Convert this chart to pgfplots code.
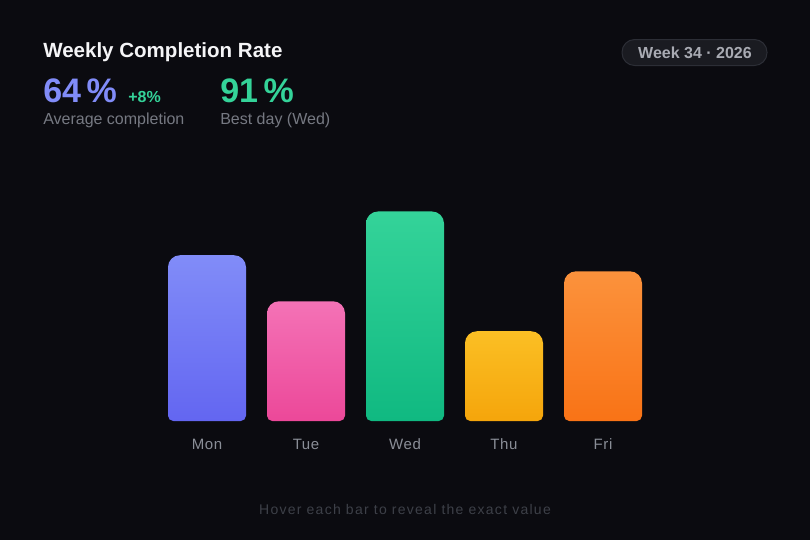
\documentclass[border=0pt]{standalone}
\usepackage{pgfplots}
\pgfplotsset{compat=1.18}
\usepackage{fontspec}
\setmainfont{Liberation Sans}
\newfontfamily\trackfoot[LetterSpace=9]{Liberation Sans}
\newfontfamily\tracksm[LetterSpace=4]{Liberation Sans}

\definecolor{bg}{HTML}{0B0B10}
\definecolor{titleC}{HTML}{F5F5F7}
\definecolor{subC}{HTML}{767982}
\definecolor{dayC}{HTML}{8A8E97}
\definecolor{footC}{HTML}{3D4048}
\definecolor{badgeFill}{HTML}{1A1B21}
\definecolor{badgeLine}{HTML}{2C2E36}
\definecolor{badgeText}{HTML}{A9ABB3}
\definecolor{indigoC}{HTML}{818CF8}
\definecolor{greenC}{HTML}{34D399}
\definecolor{monTop}{HTML}{818CF8}\definecolor{monBot}{HTML}{6366F1}
\definecolor{tueTop}{HTML}{F472B6}\definecolor{tueBot}{HTML}{EC4899}
\definecolor{wedTop}{HTML}{34D399}\definecolor{wedBot}{HTML}{10B981}
\definecolor{thuTop}{HTML}{FBBF24}\definecolor{thuBot}{HTML}{F5A50B}
\definecolor{friTop}{HTML}{FB923C}\definecolor{friBot}{HTML}{F97316}

% bars: rounded top (9pt) and bottom (4pt) corners
\makeatletter
\newif\ifroundbar
\let\origrectcorners\pgfpathrectanglecorners
\let\origrect\pgfpathrectangle
\def\pgfpathrectanglecorners#1#2{%
  \ifroundbar
    \pgf@process{#1}\edef\rb@xa{\the\pgf@x}\edef\rb@ya{\the\pgf@y}%
    \pgf@process{#2}\edef\rb@xb{\the\pgf@x}\edef\rb@yb{\the\pgf@y}%
    \roundbar@path
  \else\origrectcorners{#1}{#2}\fi}
\def\pgfpathrectangle#1#2{%
  \ifroundbar
    \pgf@process{#1}\edef\rb@xa{\the\pgf@x}\edef\rb@ya{\the\pgf@y}%
    \pgf@process{#2}%
    \advance\pgf@x by \rb@xa\relax\advance\pgf@y by \rb@ya\relax
    \edef\rb@xb{\the\pgf@x}\edef\rb@yb{\the\pgf@y}%
    \roundbar@path
  \else\origrect{#1}{#2}\fi}
\def\roundbar@path{%
  \ifdim\rb@ya>\rb@yb\relax\let\rb@t\rb@ya\let\rb@ya\rb@yb\let\rb@yb\rb@t\fi
  \ifdim\rb@xa>\rb@xb\relax\let\rb@t\rb@xa\let\rb@xa\rb@xb\let\rb@xb\rb@t\fi
  \pgfpathmoveto{\pgfpoint{\rb@xa}{\rb@ya+4pt}}%
  \pgfpathlineto{\pgfpoint{\rb@xa}{\rb@yb-9pt}}%
  \pgfpatharc{180}{90}{9pt}%
  \pgfpathlineto{\pgfpoint{\rb@xb-9pt}{\rb@yb}}%
  \pgfpatharc{90}{0}{9pt}%
  \pgfpathlineto{\pgfpoint{\rb@xb}{\rb@ya+4pt}}%
  \pgfpatharc{0}{-90}{4pt}%
  \pgfpathlineto{\pgfpoint{\rb@xa+4pt}{\rb@ya}}%
  \pgfpatharc{270}{180}{4pt}%
  \pgfpathclose}
\makeatother
\tikzset{round bar/.code={\global\roundbartrue}}
\pgfplotsset{daybar/.style={round bar, draw=none, bar shift=0pt}}

\begin{document}
\begin{tikzpicture}[x=0.75pt, y=-0.75pt]
  \useasboundingbox (0,0) rectangle (810,540);
  \fill[bg] (0,0) rectangle (810,540);

  % header
  \node[anchor=base west, inner sep=0, text=titleC,
        font=\fontsize{15.4}{18}\selectfont\bfseries] at (43,57) {Weekly Completion Rate};
  \node[anchor=base west, inner sep=0, text=indigoC,
        font=\fontsize{25.5}{28}\selectfont\bfseries] at (43,102) {64\,\%};
  \node[anchor=base west, inner sep=0, text=greenC,
        font=\fontsize{12}{14}\selectfont\bfseries] at (128,102) {+8\%};
  \node[anchor=base west, inner sep=0, text=greenC,
        font=\fontsize{25.5}{28}\selectfont\bfseries] at (220,102) {91\,\%};
  \node[anchor=base west, inner sep=0, text=subC,
        font=\fontsize{12}{14}\selectfont] at (43,124) {Average completion};
  \node[anchor=base west, inner sep=0, text=subC,
        font=\fontsize{12}{14}\selectfont] at (220,124) {Best day (Wed)};

  % badge
  \draw[fill=badgeFill, draw=badgeLine, line width=0.75pt, rounded corners=9.5pt]
    (622,39.5) rectangle (767,65.5);
  \node[anchor=base, inner sep=0, text=badgeText,
        font=\fontsize{12}{14}\selectfont\bfseries] at (695,58.3) {Week 34 · 2026};

  % footer
  \node[anchor=base, inner sep=0, text=footC,
        font=\fontsize{10.5}{12}\selectfont\trackfoot] at (405,514) {Hover each bar to reveal the exact value};

  \coordinate (A) at (157.5,421);
  \begin{axis}[
      at={(A)}, anchor=south west,
      width=371.25pt, height=172.7pt, scale only axis,
      xmin=-0.5, xmax=4.5, ymin=0, ymax=100,
      ybar, bar width=58.5pt,
      axis line style={draw=none},
      ytick=\empty,
      xtick={0,1,2,3,4},
      xticklabels={Mon,Tue,Wed,Thu,Fri},
      major tick length=0pt,
      tick style={draw=none},
      xticklabel style={anchor=base, yshift=-21pt, text=dayC,
                        font=\fontsize{11.25}{13}\selectfont\tracksm},
      clip=false,
    ]
    \addplot[daybar, top color=monTop, bottom color=monBot] coordinates {(0,72)};
    \addplot[daybar, top color=tueTop, bottom color=tueBot] coordinates {(1,52)};
    \addplot[daybar, top color=wedTop, bottom color=wedBot] coordinates {(2,91)};
    \addplot[daybar, top color=thuTop, bottom color=thuBot] coordinates {(3,39)};
    \addplot[daybar, top color=friTop, bottom color=friBot] coordinates {(4,65)};
  \end{axis}
  \global\roundbarfalse
\end{tikzpicture}
\end{document}
